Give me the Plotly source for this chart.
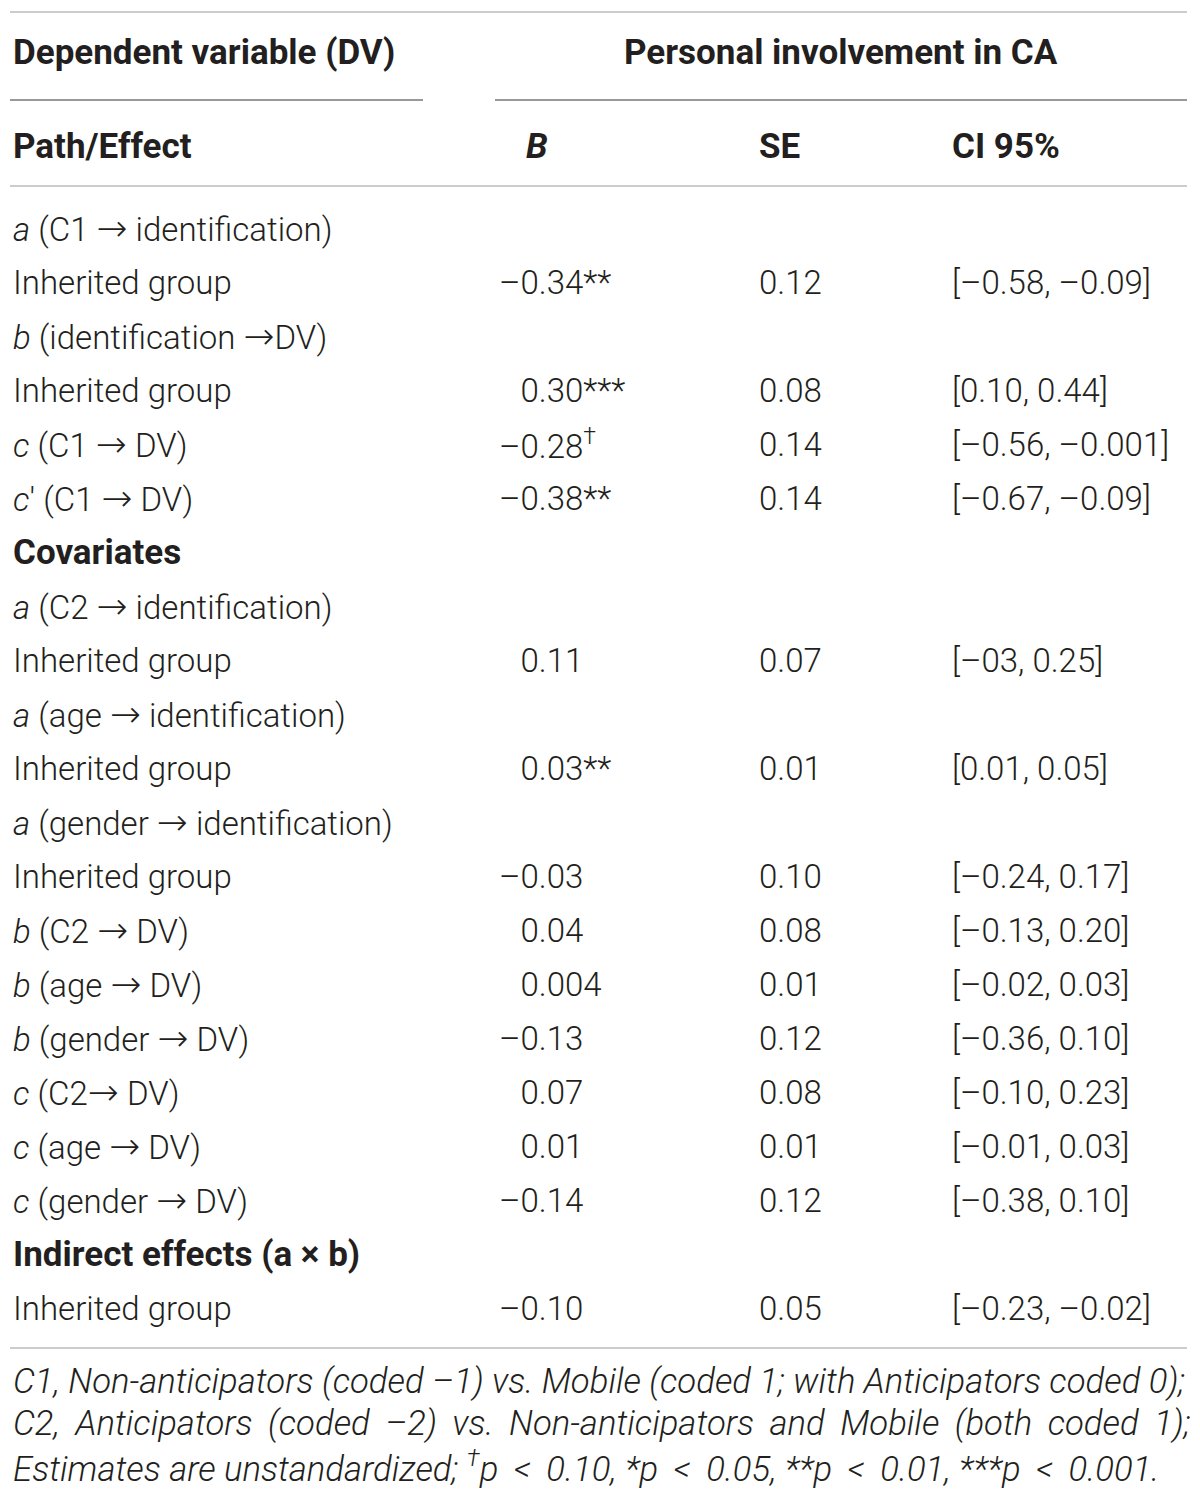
import plotly.graph_objects as go

# table content
ARW = "<span style='font-family:DejaVu Sans;font-size:37px'>→</span>"
row_labels = [
    "<i>a</i> (C1 " + ARW + " identification)",
    "Inherited group",
    "<i>b</i> (identification " + ARW + "DV)",
    "Inherited group",
    "<i>c</i> (C1 " + ARW + " DV)",
    "<i>c</i>′ (C1 " + ARW + " DV)",
    "<b>Covariates</b>",
    "<i>a</i> (C2 " + ARW + " identification)",
    "Inherited group",
    "<i>a</i> (age " + ARW + " identification)",
    "Inherited group",
    "<i>a</i> (gender " + ARW + " identification)",
    "Inherited group",
    "<i>b</i> (C2 " + ARW + " DV)",
    "<i>b</i> (age " + ARW + " DV)",
    "<i>b</i> (gender " + ARW + " DV)",
    "<i>c</i> (C2" + ARW + " DV)",
    "<i>c</i> (age " + ARW + " DV)",
    "<i>c</i> (gender " + ARW + " DV)",
    "<b>Indirect effects (a × b)</b>",
    "Inherited group",
]
bold_rows = {6, 19}
b_est = ["", "–0.34", "", "0.30", "–0.28", "–0.38", "", "", "0.11", "", "0.03", "",
         "–0.03", "0.04", "0.004", "–0.13", "0.07", "0.01", "–0.14", "", "–0.10"]
b_sig = ["", "**", "", "***", "†", "**", "", "", "", "", "**", "",
         "", "", "", "", "", "", "", "", ""]
se_vals = ["", "0.12", "", "0.08", "0.14", "0.14", "", "", "0.07", "", "0.01", "",
           "0.10", "0.08", "0.01", "0.12", "0.08", "0.01", "0.12", "", "0.05"]
ci_vals = ["", "[–0.58, –0.09]", "", "[0.10, 0.44]", "[–0.56, –0.001]", "[–0.67, –0.09]",
           "", "", "[–03, 0.25]", "", "[0.01, 0.05]", "", "[–0.24, 0.17]", "[–0.13, 0.20]",
           "[–0.02, 0.03]", "[–0.36, 0.10]", "[–0.10, 0.23]", "[–0.01, 0.03]",
           "[–0.38, 0.10]", "", "[–0.23, –0.02]"]

LT = "\u00a0\u2009&lt;\u00a0\u2009"
footnotes = [
    "C1, Non-anticipators (coded –1) vs. Mobile (coded 1; with Anticipators coded 0);",
    "C2,  Anticipators  (coded  –2)  vs.  Non-anticipators  and  Mobile  (both  coded  1);",
    "Estimates are unstandardized; <sup>†</sup>p" + LT + "0.10, *p" + LT + "0.05, "
    "**p" + LT + "0.01, ***p" + LT + "0.001.",
]

W, H = 1200, 1497
OFF = 8  # page body margin
FONT = "Roboto"
FS = 33
FS_BOLD = 35
FS_FOOT = 34.7
INK = "#231f20"
col_x = {"label": 12, "b": 498, "se": 758, "ci": 951}
row0, row_h = 228, 54
foot0, foot_h = 1381, 42.5

fig = go.Figure()
ann = []


def txt(x, y, s, size=FS, weight=300, anchor="left"):
    ann.append(dict(x=x, y=y, xref="x", yref="y", text=s, showarrow=False,
                    xanchor=anchor, yanchor="middle", borderpad=0,
                    font=dict(family=FONT, size=size, color=INK, weight=weight)))


# headers
txt(col_x["label"], 52, "<b>Dependent variable (DV)</b>", size=FS_BOLD)
txt(841, 52, "<b>Personal involvement in CA</b>", size=FS_BOLD, anchor="center")
txt(col_x["label"], 146, "<b>Path/Effect</b>", size=FS_BOLD)
txt(col_x["b"] + 27, 146, "<b><i>B</i></b>", size=FS_BOLD)
txt(col_x["se"], 146, "<b>SE</b>", size=FS_BOLD)
txt(col_x["ci"], 146, "<b>CI 95%</b>", size=FS_BOLD)

for i, lab in enumerate(row_labels):
    y = row0 + i * row_h
    txt(col_x["label"], y, lab, size=FS_BOLD if i in bold_rows else FS)
    if b_est[i]:
        val = b_est[i]
        if not val.startswith("–"):
            val = "<span style='color:rgba(0,0,0,0)'>–</span>" + val
        if b_sig[i] == "†":
            val += "<sup>†</sup>"
        elif b_sig[i]:
            val += b_sig[i]
        txt(col_x["b"], y, val)
    if se_vals[i]:
        txt(col_x["se"], y, se_vals[i])
    if ci_vals[i]:
        txt(col_x["ci"], y, ci_vals[i])

for j, line in enumerate(footnotes):
    txt(col_x["label"], foot0 + j * foot_h,
        "<i>" + line.replace("  ", "\u00a0\u2009") + "</i>", size=FS_FOOT)

rules = [
    (10, 1187, 12, "#cccccc"),
    (10, 423, 100, "#999999"),
    (495, 1187, 100, "#999999"),
    (10, 1187, 186, "#cccccc"),
    (10, 1187, 1348, "#cccccc"),
]
shapes = [dict(type="line", xref="x", yref="y", x0=a, x1=b, y0=y, y1=y,
               line=dict(color=c, width=2)) for a, b, y, c in rules]

fig.update_layout(
    width=W, height=H,
    margin=dict(l=0, r=0, t=0, b=0),
    paper_bgcolor="white", plot_bgcolor="white",
    xaxis=dict(range=[OFF, W + OFF], visible=False, fixedrange=True),
    yaxis=dict(range=[H + OFF, OFF], visible=False, fixedrange=True),
    annotations=ann, shapes=shapes, showlegend=False,
)
fig.write_html("out.html")
